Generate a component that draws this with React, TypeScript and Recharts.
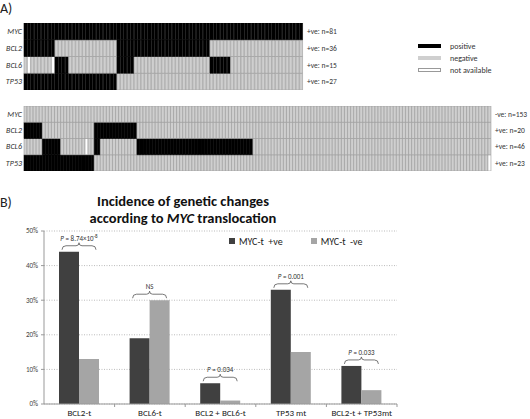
import React from 'react';
import { BarChart, Bar, XAxis, YAxis, CartesianGrid, Legend, LabelList, Cell } from 'recharts';

const FONT = 'Carlito, Lato, "Open Sans", sans-serif';

// Panel A: runs of [status, number of cases]; P = positive, N = negative, X = not available
const GENES = ['MYC', 'BCL2', 'BCL6', 'TP53'];

const POS_MYC = [['P', 81]];
const POS_BCL2 = [['P', 9], ['N', 18], ['P', 27], ['N', 27]];
const POS_BCL6 = [['N', 1], ['X', 1], ['N', 6], ['X', 1], ['P', 4], ['N', 14], ['P', 5], ['N', 22], ['P', 6], ['N', 21]];
const POS_TP53 = [['P', 27], ['N', 54]];
const POS_COUNTS = ['+ve: n=81', '+ve: n=36', '+ve: n=15', '+ve: n=27'];

const NEG_MYC = [['N', 153]];
const NEG_BCL2 = [['P', 6], ['N', 17], ['P', 14], ['N', 116]];
const NEG_BCL6 = [['N', 6], ['P', 6], ['N', 8], ['X', 1], ['N', 2], ['P', 2], ['N', 12], ['P', 38], ['N', 78]];
const NEG_TP53 = [['P', 23], ['N', 129], ['X', 1]];
const NEG_COUNTS = ['-ve: n=153', '+ve: n=20', '+ve: n=46', '+ve: n=23'];

const STATUS_LEGEND = [['P', 'positive'], ['N', 'negative'], ['X', 'not available']];

// Panel B
const CATEGORIES = ['BCL2-t', 'BCL6-t', 'BCL2 + BCL6-t', 'TP53 mt', 'BCL2-t + TP53mt'];
const MYC_POS = [44, 19, 6, 33, 11];
const MYC_NEG = [13, 30, 1, 15, 4];
const P_LABELS = ['P = 8.74×10^-8', 'NS', 'P = 0.034', 'P = 0.001', 'P = 0.033'];
const Y_TICKS = [0, 10, 20, 30, 40, 50];

const FILL: Record<string, string> = { P: '#000000', N: '#cfcfcf', X: '#ffffff' };
const EDGE: Record<string, string> = { P: '#000000', N: '#9a9a9a', X: '#9a9a9a' };

const expand = (runs: any[]) => runs.flatMap(([s, n]) => Array(n).fill(s));

const StatusLegend = () => (
  <div style={{ fontFamily: FONT, fontSize: 8, color: '#333' }}>
    {STATUS_LEGEND.map(([s, label]) => (
      <div key={s} style={{ display: 'flex', alignItems: 'center', height: 12 }}>
        <span
          style={{
            width: 23,
            height: 4,
            marginRight: 9,
            background: FILL[s],
            boxSizing: 'border-box',
            border: s === 'X' ? '0.7px solid #999' : 'none',
          }}
        />
        {label}
      </div>
    ))}
  </div>
);

// plain text tick so the row labels never wrap
const RowTick = ({ x, y, payload, labels, anchor, italic, size }: any) => (
  <text
    x={x}
    y={y}
    dy="0.35em"
    textAnchor={anchor}
    fontSize={size}
    fontStyle={italic ? 'italic' : 'normal'}
    fill="#333"
    fontFamily={FONT}
  >
    {labels[3 - Math.floor(payload.value)]}
  </text>
);

function Heatmap({ runs, counts, top, width, height, rightWidth, legend }: any) {
  const cells: Record<string, string[]> = {};
  GENES.forEach((g, k) => (cells[g] = expand(runs[k])));
  const n = cells.MYC.length;
  const data = Array.from({ length: n }, (_, i) => ({ id: i, MYC: 1, BCL2: 1, BCL6: 1, TP53: 1 }));
  const rowTicks = [0.5, 1.5, 2.5, 3.5];

  return (
    <div style={{ position: 'absolute', left: 0, top }}>
      <BarChart
        width={width}
        height={height}
        data={data}
        margin={{ top: 0, right: 0, bottom: 0, left: 0 }}
        barCategoryGap={0}
        barGap={0}
      >
        <XAxis dataKey="id" hide />
        <YAxis
          yAxisId="l"
          domain={[0, 4]}
          ticks={rowTicks}
          interval={0}
          width={24}
          axisLine={false}
          tickLine={false}
          tickSize={0}
          tickMargin={2}
          tick={<RowTick labels={GENES} anchor="end" italic size={8} />}
        />
        <YAxis
          yAxisId="r"
          orientation="right"
          type="number"
          domain={[0, 4]}
          allowDataOverflow
          ticks={rowTicks}
          interval={0}
          width={rightWidth}
          axisLine={false}
          tickLine={false}
          tickSize={0}
          tickMargin={4}
          tick={<RowTick labels={counts} anchor="start" size={7.5} />}
        />
        {[...GENES].reverse().map((g) => (
          <Bar key={g} dataKey={g} stackId="a" yAxisId="l" isAnimationActive={false}>
            {cells[g].map((s, i) => (
              <Cell key={i} fill={FILL[s]} stroke={EDGE[s]} strokeWidth={0.6} />
            ))}
          </Bar>
        ))}
        {legend && (
          <Legend
            layout="horizontal"
            verticalAlign="middle"
            align="center"
            content={<StatusLegend />}
            wrapperStyle={{ left: 418, top: 16.5, width: 100, height: 36 }}
          />
        )}
      </BarChart>
    </div>
  );
}

const CategoryTick = (props: any) => {
  const { x, y, payload, width, visibleTicksCount } = props;
  const half = width / visibleTicksCount / 2;
  return (
    <g>
      <line x1={x + half} x2={x + half} y1={y - 6} y2={y - 3} stroke="#999" />
      <text x={x} y={y} dy="0.72em" textAnchor="middle" fontSize={9} fill="#222" fontFamily={FONT}>
        {payload.value}
      </text>
    </g>
  );
};

const renderBrace = (props: any) => {
  const { x, y, width, height, value, index } = props;
  const perUnit = height / value;
  const lightTop = y + height - MYC_NEG[index] * perUnit;
  const top = Math.min(y, lightTop);
  const cx = x + width;
  const x1 = cx - 17;
  const x2 = cx + 17;
  const ly = top - 6;
  const d = `M${x1},${top - 2} Q${x1},${ly} ${x1 + 4},${ly} L${cx - 3},${ly} Q${cx},${ly} ${cx},${ly - 3} Q${cx},${ly} ${cx + 3},${ly} L${x2 - 4},${ly} Q${x2},${ly} ${x2},${top - 2}`;
  const label = P_LABELS[index];
  const [base, sup] = label.split('^');
  const isP = base.startsWith('P');
  return (
    <g>
      <path d={d} fill="none" stroke="#555" strokeWidth={0.8} />
      <text x={cx} y={top - 11} textAnchor="middle" fontSize={7} fill="#333" fontFamily={FONT}>
        {isP && <tspan fontStyle="italic">P</tspan>}
        {isP ? base.slice(1) : base}
        {sup && (
          <tspan dy={-3} fontSize={5}>
            {sup}
          </tspan>
        )}
      </text>
    </g>
  );
};

const BarLegend = ({ payload }: any) => (
  <div style={{ display: 'flex', gap: 28, fontSize: 10, color: '#222', fontFamily: FONT, whiteSpace: 'pre' }}>
    {(payload || []).map((p: any) => (
      <span key={p.value} style={{ display: 'flex', alignItems: 'center', height: 12 }}>
        <span style={{ width: 6, height: 6, background: p.color, marginRight: 4 }} />
        {p.value}
      </span>
    ))}
  </div>
);

export default function App() {
  const barData = CATEGORIES.map((name, i) => ({ name, pos: MYC_POS[i], neg: MYC_NEG[i] }));

  return (
    <div
      style={{
        position: 'absolute',
        left: 0,
        top: 0,
        width: 530,
        height: 419,
        background: '#fff',
        fontFamily: FONT,
        overflow: 'hidden',
      }}
    >
      <div style={{ position: 'absolute', left: 0, top: 0, fontSize: 14, color: '#222' }}>A)</div>

      <Heatmap
        runs={[POS_MYC, POS_BCL2, POS_BCL6, POS_TP53]}
        counts={POS_COUNTS}
        top={23}
        width={363}
        height={67}
        rightWidth={60}
        legend
      />
      <Heatmap
        runs={[NEG_MYC, NEG_BCL2, NEG_BCL6, NEG_TP53]}
        counts={NEG_COUNTS}
        top={106}
        width={530}
        height={65}
        rightWidth={39}
      />

      <div style={{ position: 'absolute', left: 0, top: 194, fontSize: 14, color: '#222' }}>B)</div>
      <div
        style={{
          position: 'absolute',
          left: 0,
          top: 192.5,
          width: 366,
          textAlign: 'center',
          fontSize: 14.5,
          lineHeight: '17px',
          fontWeight: 'bold',
          color: '#111',
        }}
      >
        Incidence of genetic changes
        <br />
        according to <i>MYC</i> translocation
      </div>

      <div style={{ position: 'absolute', left: 0, top: 190 }}>
        <BarChart
          width={400}
          height={229}
          data={barData}
          margin={{ top: 41, right: 3, bottom: 0, left: 0 }}
          barGap={0}
          barSize={20}
        >
          <CartesianGrid vertical={false} stroke="#bbb" strokeDasharray="1 1.5" />
          <XAxis
            dataKey="name"
            height={15}
            interval={0}
            axisLine={{ stroke: '#999' }}
            tickLine={false}
            tickSize={0}
            tickMargin={6}
            tick={<CategoryTick />}
          />
          <YAxis
            domain={[0, 50]}
            ticks={Y_TICKS}
            tickFormatter={(v) => `${v}%`}
            width={44}
            axisLine={{ stroke: '#999' }}
            tickLine={{ stroke: '#999' }}
            tickSize={3}
            tickMargin={3}
            tick={{ fontSize: 7, fill: '#444', fontFamily: FONT }}
          />
          <Legend
            layout="horizontal"
            verticalAlign="middle"
            align="center"
            content={<BarLegend />}
            wrapperStyle={{ left: 229, top: 45, width: 170, height: 12 }}
          />
          <Bar dataKey="pos" name="MYC-t  +ve" fill="#404040" isAnimationActive={false}>
            <LabelList dataKey="pos" content={renderBrace} />
          </Bar>
          <Bar dataKey="neg" name="MYC-t  -ve" fill="#a5a5a5" isAnimationActive={false} />
        </BarChart>
      </div>
    </div>
  );
}
